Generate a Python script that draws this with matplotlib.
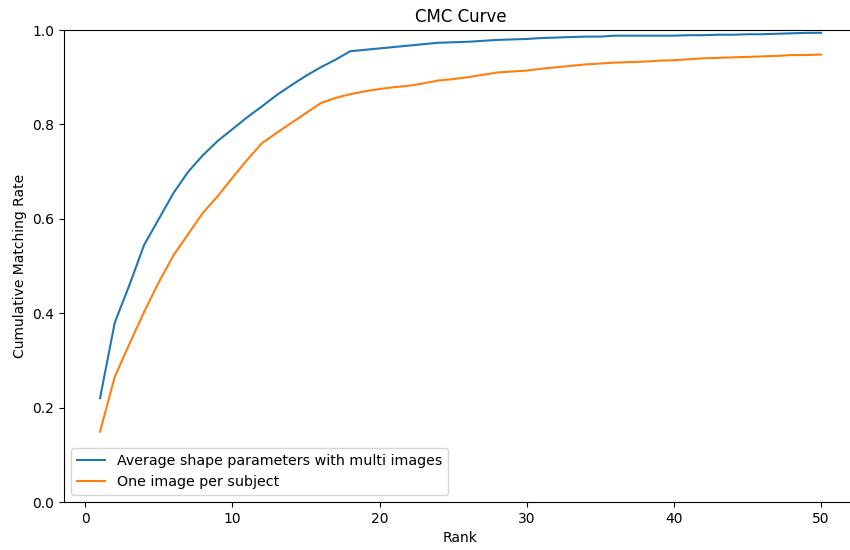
import matplotlib
matplotlib.use("Agg")
import matplotlib.pyplot as plt
import numpy as np

ranks = list(range(1, 51))
multi_images = [0.22, 0.38, 0.46, 0.545, 0.60, 0.655, 0.70, 0.735, 0.765, 0.79,
                0.815, 0.838, 0.862, 0.883, 0.903, 0.921, 0.937, 0.955, 0.958, 0.961,
                0.964, 0.967, 0.970, 0.973, 0.974, 0.975, 0.977, 0.979, 0.980, 0.981,
                0.983, 0.984, 0.985, 0.986, 0.986, 0.988, 0.988, 0.988, 0.988, 0.988,
                0.989, 0.989, 0.990, 0.990, 0.991, 0.991, 0.992, 0.993, 0.994, 0.994]
one_image = [0.149, 0.265, 0.335, 0.403, 0.466, 0.523, 0.568, 0.613, 0.648, 0.687,
             0.725, 0.760, 0.782, 0.803, 0.824, 0.845, 0.856, 0.864, 0.870, 0.875,
             0.879, 0.882, 0.887, 0.893, 0.896, 0.900, 0.905, 0.910, 0.912, 0.914,
             0.918, 0.921, 0.924, 0.927, 0.929, 0.931, 0.932, 0.933, 0.935, 0.936,
             0.938, 0.940, 0.941, 0.942, 0.943, 0.944, 0.945, 0.947, 0.947, 0.948]
labels = ["Average shape parameters with multi images", "One image per subject"]

fig = plt.figure(figsize=(8.5, 5.5), dpi=100)
ax = fig.add_axes([64/850, 48/550, (857-64)/850, (502-30)/550])
ax.plot(ranks, multi_images, label=labels[0])
ax.plot(ranks, one_image, label=labels[1])
ax.set_ylim(0, 1.0)
ax.set_title("CMC Curve")
ax.set_xlabel("Rank")
ax.set_ylabel("Cumulative Matching Rate")
ax.legend(loc="lower left", fontsize=10.3)
fig.savefig("out.png", dpi=100)
